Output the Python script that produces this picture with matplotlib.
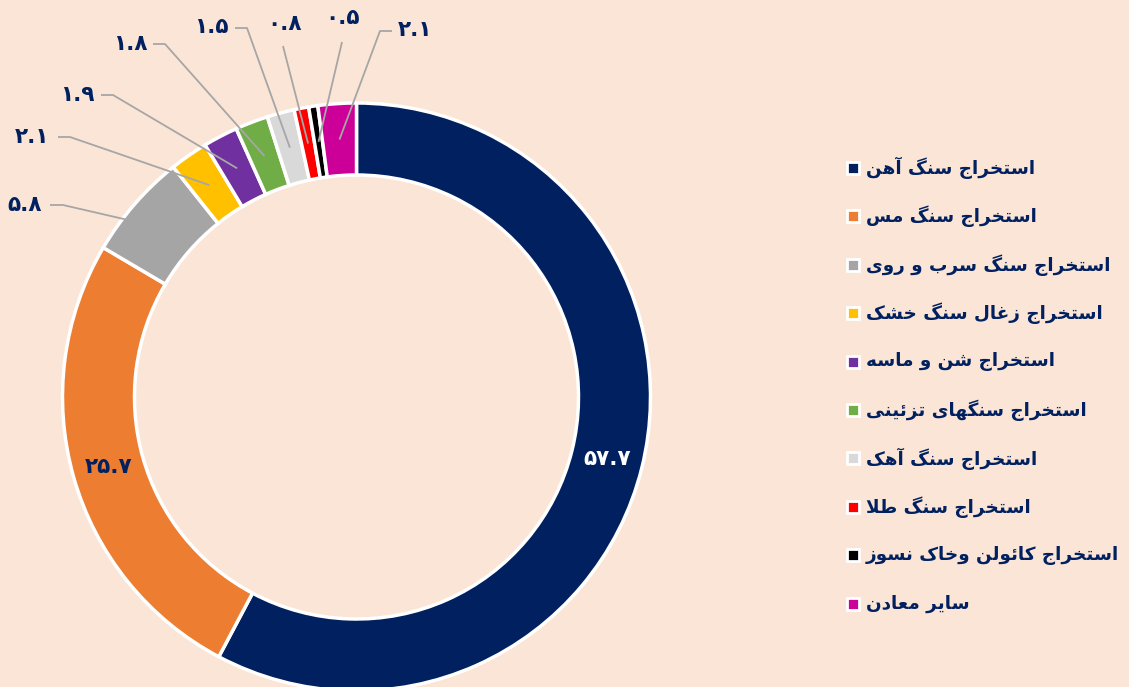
import matplotlib
matplotlib.use("Agg")
from matplotlib import pyplot as plt
import numpy as np

# data
labels = ["استخراج سنگ آهن", "استخراج سنگ مس", "استخراج سنگ سرب و روی",
          "استخراج زغال سنگ خشک", "استخراج شن و ماسه", "استخراج سنگهای تزئینی",
          "استخراج سنگ آهک", "استخراج سنگ طلا", "استخراج کائولن وخاک نسوز",
          "سایر معادن"]
values = [57.7, 25.7, 5.8, 2.1, 1.9, 1.8, 1.5, 0.8, 0.5, 2.1]
colors = ["#002060", "#ED7D31", "#A5A5A5", "#FFC000", "#7030A0",
          "#70AD47", "#D9D9D9", "#FF0000", "#000000", "#CC0099"]

BG = "#FBE5D6"
NAVY = "#002060"

# simple arabic/persian shaping (matplotlib has no complex text layout)
FORMS = {
    'ا': ('\uFE8D', '\uFE8E'), 'آ': ('\uFE81', '\uFE82'),
    'د': ('\uFEA9', '\uFEAA'), 'ر': ('\uFEAD', '\uFEAE'),
    'ز': ('\uFEAF', '\uFEB0'), 'و': ('\uFEED', '\uFEEE'),
    'ب': ('\uFE8F', '\uFE90', '\uFE91', '\uFE92'),
    'ت': ('\uFE95', '\uFE96', '\uFE97', '\uFE98'),
    'ج': ('\uFE9D', '\uFE9E', '\uFE9F', '\uFEA0'),
    'خ': ('\uFEA5', '\uFEA6', '\uFEA7', '\uFEA8'),
    'س': ('\uFEB1', '\uFEB2', '\uFEB3', '\uFEB4'),
    'ش': ('\uFEB5', '\uFEB6', '\uFEB7', '\uFEB8'),
    'ط': ('\uFEC1', '\uFEC2', '\uFEC3', '\uFEC4'),
    'ع': ('\uFEC9', '\uFECA', '\uFECB', '\uFECC'),
    'غ': ('\uFECD', '\uFECE', '\uFECF', '\uFED0'),
    'ل': ('\uFEDD', '\uFEDE', '\uFEDF', '\uFEE0'),
    'م': ('\uFEE1', '\uFEE2', '\uFEE3', '\uFEE4'),
    'ن': ('\uFEE5', '\uFEE6', '\uFEE7', '\uFEE8'),
    'ه': ('\uFEE9', '\uFEEA', '\uFEEB', '\uFEEC'),
    'ئ': ('\uFE89', '\uFE8A', '\uFE8B', '\uFE8C'),
    'ک': ('\uFB8E', '\uFB8F', '\uFB90', '\uFB91'),
    'گ': ('\uFB92', '\uFB93', '\uFB94', '\uFB95'),
    'ی': ('\uFBFC', '\uFBFD', '\uFBFE', '\uFBFF'),
}


def joins_next(c):
    return c in FORMS and len(FORMS[c]) == 4


def shape(s):
    out = []
    i = 0
    while i < len(s):
        c = s[i]
        prev = s[i - 1] if i > 0 else ""
        pj = joins_next(prev)
        if c == 'ل' and i + 1 < len(s) and s[i + 1] == 'ا':
            out.append('\uFEFC' if pj else '\uFEFB')
            i += 2
            continue
        if c not in FORMS:
            out.append(c)
            i += 1
            continue
        nxt = s[i + 1] if i + 1 < len(s) else ""
        nj = joins_next(c) and nxt in FORMS
        f = FORMS[c]
        if pj and nj:
            out.append(f[3])
        elif pj:
            out.append(f[1])
        elif nj:
            out.append(f[2])
        else:
            out.append(f[0])
        i += 1
    return "".join(out)[::-1]


def fa_num(v):
    return f"{v:.1f}".translate(str.maketrans("0123456789", "۰۱۲۳۴۵۶۷۸۹"))


W, H = 1129, 687
fig = plt.figure(figsize=(W / 100, H / 100), dpi=100, facecolor=BG)
ax = fig.add_axes([0, 0, 1, 1])
ax.set_facecolor(BG)

cx, cy = 356.5, H - 397
R, width = 294, 72
ax.pie(values, colors=colors, radius=R, center=(cx, cy), startangle=90,
       counterclock=False, wedgeprops=dict(width=width, edgecolor="white", linewidth=2.5))
ax.set_xlim(0, W)
ax.set_ylim(0, H)
ax.axis("off")

fnt = dict(family=["DejaVu Sans"], fontweight="bold")

# mid angles of the wedges (math convention, degrees)
frac = np.cumsum([0] + values) / sum(values)
mid = 90 - 360 * (frac[:-1] + frac[1:]) / 2
rm = R - width / 2

# inside labels
for i, col in [(0, "white"), (1, NAVY)]:
    a = np.radians(mid[i])
    ax.text(cx + rm * np.cos(a), cy + rm * np.sin(a), fa_num(values[i]),
            color=col, fontsize=15.5, ha="center", va="center", **fnt)

# outside labels: text pos (px from top-left), elbow start/end
outside = {
    2: ((25, 205), [(50, 205), (63, 205)]),
    3: ((32, 137), [(58, 137), (70, 137)]),
    4: ((77, 95), [(101, 95), (113, 95)]),
    5: ((130, 44), [(153, 44), (165, 44)]),
    6: ((211, 27), [(235, 28), (247, 28)]),
    7: ((285, 24), [(283, 46)]),
    8: ((342, 18), [(342, 42)]),
    9: ((415, 30), [(392, 31), (380, 31)]),
}
for i, ((tx, ty), pts) in outside.items():
    a = np.radians(mid[i])
    px = [p[0] for p in pts] + [cx + rm * np.cos(a)]
    py = [H - p[1] for p in pts] + [cy + rm * np.sin(a)]
    ax.plot(px, py, color="#A6A6A6", lw=1.3, solid_capstyle="butt")
    ax.text(tx, H - ty, fa_num(values[i]), color=NAVY, fontsize=15.5,
            ha="center", va="center", **fnt)

# legend
ly0, lstep = 168, 48.4
for k, (lab, col) in enumerate(zip(labels, colors)):
    y = H - (ly0 + k * lstep)
    ax.plot([853], [y], marker="s", ms=9, mfc=col, mec="white", mew=2)
    ax.text(866, y, shape(lab), color=NAVY, fontsize=13.2, ha="left",
            va="center", **fnt)

fig.savefig("out.png", dpi=100, facecolor=BG)
